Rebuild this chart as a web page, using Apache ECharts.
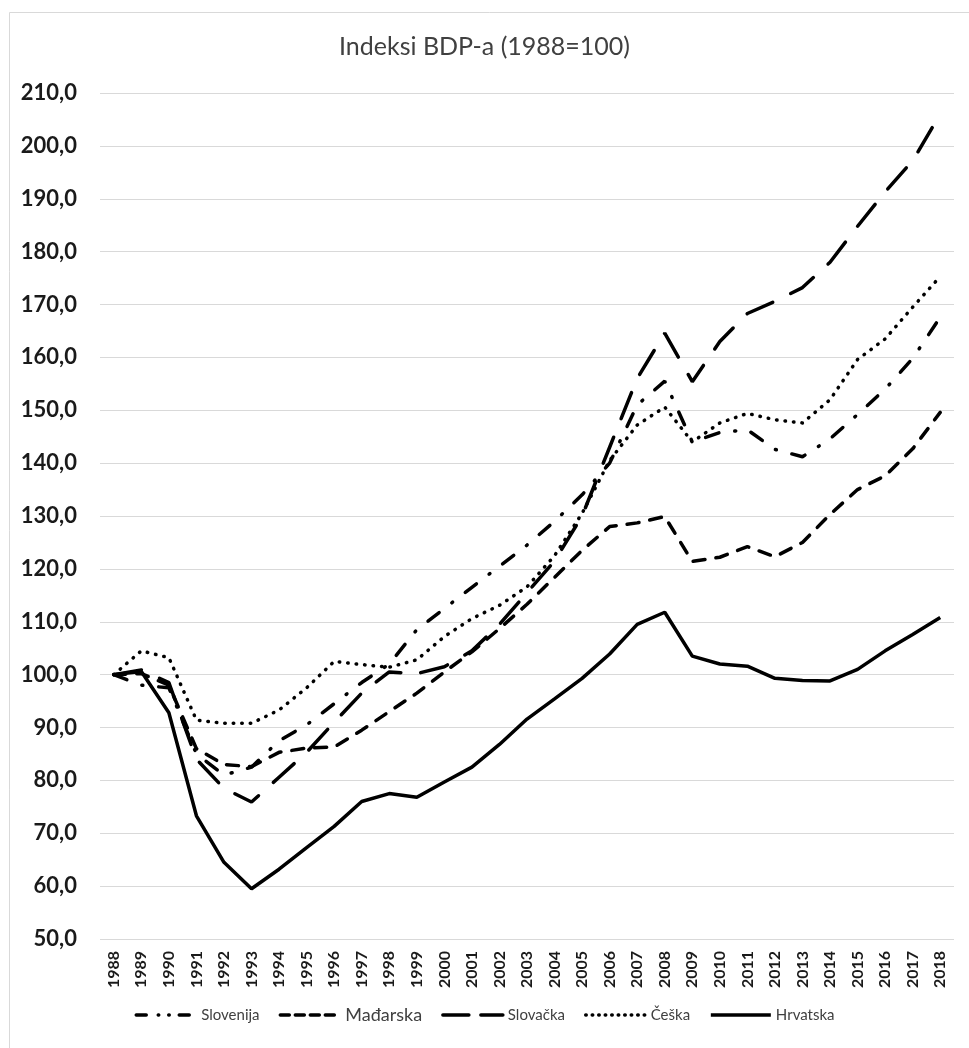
<!DOCTYPE html>
<html>
<head>
<meta charset="utf-8">
<script src="https://cdn.jsdelivr.net/npm/echarts@6/dist/echarts.min.js"></script>
<style>
  html, body { margin: 0; padding: 0; background: #fff; }
  #chart { width: 969px; height: 1048px; }
</style>
</head>
<body>
<div id="chart"></div>
<script>
var years = []
for (var y = 1988; y <= 2018; y++) years.push(String(y))

// indeks BDP-a, 1988 = 100
var slovenija = [100, 98, 97.5, 85, 81, 82.5, 87.5, 90.5, 94.5, 98.5, 102, 108.5, 112.5, 116.5, 120.5, 124.5, 129, 134, 140, 151, 155.5, 144, 145.8, 146.3, 142.6, 141.2, 144.6, 149.2, 154, 159.8, 167.6]
var madarska = [100, 100.2, 98, 86, 83, 82.6, 85.3, 86.1, 86.3, 89.5, 93, 96.5, 100.5, 104.3, 108.7, 113.3, 118.4, 123.5, 128, 128.7, 129.9, 121.4, 122.2, 124.2, 122.3, 125, 130.3, 135, 137.6, 142.7, 149.6]
var slovacka = [100, 100.9, 98.5, 84, 78.5, 75.9, 80.6, 85.3, 91, 96.5, 100.5, 100.2, 101.5, 104.5, 109.5, 115.5, 121.5, 130, 143, 156, 164.6, 155.4, 163, 168.3, 170.6, 173.2, 178, 184.8, 191.3, 197.2, 206]
var ceska = [100, 104.5, 103.2, 91.4, 90.8, 90.8, 93.3, 97.5, 102.5, 101.9, 101.4, 102.8, 107.2, 110.6, 113.1, 116.6, 122.5, 130.5, 140.5, 147.2, 150.6, 144, 147.6, 149.4, 148.2, 147.6, 152, 159.6, 163.5, 169.5, 175.3]
var hrvatska = [100, 100.6, 92.8, 73.3, 64.5, 59.5, 63.2, 67.3, 71.3, 76, 77.5, 76.8, 79.7, 82.5, 86.8, 91.6, 95.4, 99.3, 103.9, 109.5, 111.8, 103.5, 102, 101.6, 99.3, 98.9, 98.8, 101, 104.5, 107.6, 110.8]

var names = ['Slovenija', 'Mađarska', 'Slovačka', 'Češka', 'Hrvatska']
var values = [slovenija, madarska, slovacka, ceska, hrvatska]
var dashes = [[14, 16, 1, 16], [12, 11], [28, 20], [0.5, 8], 'solid']
// legenda ima kraće crtice
var legendDashes = [[10, 12, 0.5, 10, 0.5, 10], [9, 6], [26, 12], [0.5, 6], 'solid']

var font = 'Lato, "Open Sans", sans-serif'
var myChart = echarts.init(document.getElementById('chart'))

var series = names.map(function (n, i) {
    return {
        name: n,
        type: 'line',
        data: values[i],
        symbol: 'none',
        itemStyle: { color: '#000' },
        lineStyle: {
            color: '#000',
            width: 3.5,
            type: dashes[i],
            cap: i == 4 ? 'butt' : 'round'
        }
    }
})

var legendData = names.map(function (n, i) {
    return {
        name: n,
        itemStyle: { opacity: 0 },
        lineStyle: { color: '#000', width: 3.5, type: legendDashes[i], cap: i == 4 ? 'butt' : 'round' }
    }
})

var option = {
    backgroundColor: '#fff',
    animation: false,
    title: {
        text: 'Indeksi BDP-a (1988=100)',
        left: 'center',
        top: 29,
        textStyle: { fontFamily: font, fontSize: 25, fontWeight: 'normal', color: '#404040' }
    },
    graphic: [{
        type: 'rect',
        shape: { x: 9.5, y: 12.5, width: 980, height: 1060 },
        style: { fill: 'none', stroke: '#d9d9d9', lineWidth: 1 },
        silent: true
    }],
    grid: { left: 100, right: 15, top: 93, bottom: 109 },
    legend: {
        data: legendData,
        bottom: 19,
        left: 'center',
        itemWidth: 60,
        itemHeight: 12,
        itemGap: 19,
        formatter: function (n) {
            return n == 'Mađarska' ? '{big|' + n + '}' : n
        },
        textStyle: {
            fontFamily: font, fontSize: 15, color: '#404040',
            rich: { big: { fontFamily: font, fontSize: 18, color: '#404040' } }
        }
    },
    xAxis: {
        type: 'category',
        data: years,
        boundaryGap: true,
        axisLine: { show: false },
        axisTick: { show: false },
        axisLabel: {
            rotate: 90,
            interval: 0,
            margin: 12,
            fontFamily: font,
            fontSize: 16,
            fontWeight: 'bold',
            color: '#1a1a1a'
        }
    },
    yAxis: {
        type: 'value',
        min: 50,
        max: 210,
        interval: 10,
        axisLine: { show: false },
        axisTick: { show: false },
        splitLine: { lineStyle: { color: '#d9d9d9', width: 1 } },
        axisLabel: {
            margin: 23,
            fontFamily: font,
            fontSize: 22,
            fontWeight: 'bold',
            color: '#1a1a1a',
            formatter: function (v) { return v.toFixed(1).replace('.', ',') }
        }
    },
    series: series
}

myChart.setOption(option)
</script>
</body>
</html>
